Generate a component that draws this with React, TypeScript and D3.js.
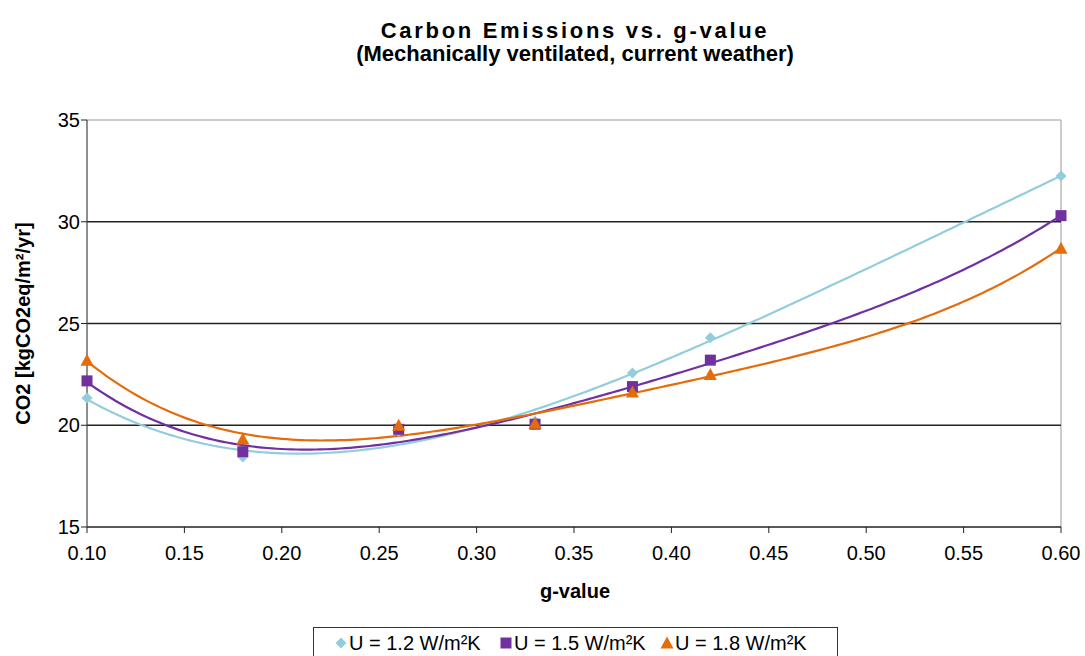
import React from "react";
import * as d3 from "d3";

// g-value sample points and CO2 results per glazing U-value
const gValues = [0.1, 0.18, 0.26, 0.33, 0.38, 0.42, 0.6];
const co2U12 = [21.34, 18.44, 19.7, 20.2, 22.57, 24.3, 32.25];
const co2U15 = [22.18, 18.7, 19.8, 20.05, 21.9, 23.2, 30.3];
const co2U18 = [23.2, 19.33, 20.0, 20.1, 21.64, 22.5, 28.7];
const seriesNames = ["U = 1.2 W/m²K", "U = 1.5 W/m²K", "U = 1.8 W/m²K"];
const seriesColors = ["#93CDDD", "#7030A0", "#E46C0A"];
const seriesShapes = ["diamond", "square", "triangle"];
const xTicks = [0.1, 0.15, 0.2, 0.25, 0.3, 0.35, 0.4, 0.45, 0.5, 0.55, 0.6];
const yTicks = [15, 20, 25, 30, 35];

const W = 1085;
const H = 656;
const left = 87;
const right = 1061;
const top = 120;
const bottom = 527;
const FONT = "'Liberation Sans', Arial, sans-serif";

// least-squares polynomial trendline coefficients (c0 + c1 x + c2 x^2 ...)
function polyFit(xs: number[], ys: number[], deg: number): number[] {
  const n = deg + 1;
  const A: number[][] = Array.from({ length: n }, () => new Array(n + 1).fill(0));
  for (let i = 0; i < xs.length; i++) {
    for (let r = 0; r < n; r++) {
      for (let c = 0; c < n; c++) A[r][c] += Math.pow(xs[i], r + c);
      A[r][n] += ys[i] * Math.pow(xs[i], r);
    }
  }
  for (let col = 0; col < n; col++) {
    let piv = col;
    for (let r = col + 1; r < n; r++) if (Math.abs(A[r][col]) > Math.abs(A[piv][col])) piv = r;
    const tmp = A[col];
    A[col] = A[piv];
    A[piv] = tmp;
    for (let r = 0; r < n; r++) {
      if (r === col) continue;
      const f = A[r][col] / A[col][col];
      for (let c = col; c <= n; c++) A[r][c] -= f * A[col][c];
    }
  }
  return A.map((row, i) => row[n] / row[i]);
}

function marker(shape: string, cx: number, cy: number, color: string, key: string) {
  if (shape === "diamond") {
    const s = 5.5;
    return <path key={key} d={`M${cx},${cy - s}L${cx + s},${cy}L${cx},${cy + s}L${cx - s},${cy}Z`} fill={color} />;
  }
  if (shape === "square") {
    const s = 5.5;
    return <rect key={key} x={cx - s} y={cy - s} width={2 * s} height={2 * s} fill={color} />;
  }
  const s = 6.5;
  return <path key={key} d={`M${cx},${cy - s}L${cx + s},${cy + s * 0.85}L${cx - s},${cy + s * 0.85}Z`} fill={color} />;
}

export default function App() {
  const x = d3.scaleLinear().domain([0.1, 0.6]).range([left, right]);
  const y = d3.scaleLinear().domain([15, 35]).range([bottom, top]);
  const allSeries = [co2U12, co2U15, co2U18];

  const line = d3
    .line<[number, number]>()
    .x((d) => x(d[0]))
    .y((d) => y(d[1]));

  const samples = d3.range(0, 201).map((i) => 0.1 + (0.5 * i) / 200);

  return (
    <svg width={W} height={H} style={{ position: "absolute", left: 0, top: 0 }} fontFamily={FONT}>
      <rect width={W} height={H} fill="#fff" />
      <text x={575} y={38} textAnchor="middle" fontSize={22} fontWeight="bold" letterSpacing={2.7}>
        Carbon Emissions vs. g-value
      </text>
      <text x={575} y={61} textAnchor="middle" fontSize={22} fontWeight="bold">
        (Mechanically ventilated, current weather)
      </text>

      {/* plot frame and gridlines */}
      <line x1={left} x2={right} y1={top} y2={top} stroke="#999" strokeWidth={1.2} />
      <line x1={right} x2={right} y1={top} y2={bottom} stroke="#aaa" strokeWidth={1.2} />
      {yTicks
        .filter((t) => t !== 15 && t !== 35)
        .map((t) => (
          <line key={t} x1={left} x2={right} y1={y(t)} y2={y(t)} stroke="#222" strokeWidth={1.3} />
        ))}
      <line x1={left} x2={right} y1={bottom} y2={bottom} stroke="#222" strokeWidth={1.3} />
      <line x1={left} x2={left} y1={top} y2={bottom} stroke="#444" strokeWidth={1.2} />

      {yTicks.map((t) => (
        <g key={t}>
          <line x1={left - 6} x2={left} y1={y(t)} y2={y(t)} stroke="#222" />
          <text x={left - 7} y={y(t) + 7} textAnchor="end" fontSize={20}>
            {t}
          </text>
        </g>
      ))}
      {xTicks.map((t) => (
        <g key={t}>
          <line x1={x(t)} x2={x(t)} y1={bottom} y2={bottom + 6} stroke="#222" />
          <text x={x(t)} y={bottom + 33} textAnchor="middle" fontSize={20}>
            {t.toFixed(2)}
          </text>
        </g>
      ))}

      <text x={575} y={598} textAnchor="middle" fontSize={20} fontWeight="bold">
        g-value
      </text>
      <text
        transform={`translate(30,${(top + bottom) / 2}) rotate(-90)`}
        textAnchor="middle"
        fontSize={20}
        fontWeight="bold"
      >
        CO2 [kgCO2eq/m²/yr]
      </text>

      {/* polynomial trendlines */}
      {allSeries.map((vals, si) => {
        const c = polyFit(gValues, vals, 4);
        const pts: [number, number][] = samples.map((g) => [g, c.reduce((s, ci, k) => s + ci * Math.pow(g, k), 0)]);
        return <path key={si} d={line(pts) || ""} fill="none" stroke={seriesColors[si]} strokeWidth={2.2} />;
      })}
      {allSeries.map((vals, si) =>
        vals.map((v, i) => marker(seriesShapes[si], x(gValues[i]), y(v), seriesColors[si], `${si}-${i}`))
      )}

      {/* legend */}
      <rect x={313.5} y={627.5} width={524} height={40} fill="#fff" stroke="#333" />
      {seriesNames.map((name, si) => {
        const lx = [341, 506, 667][si];
        return (
          <g key={si}>
            {marker(seriesShapes[si], lx, 643, seriesColors[si], "lg" + si)}
            <text x={lx + 8} y={650} fontSize={20}>
              {name}
            </text>
          </g>
        );
      })}
    </svg>
  );
}
